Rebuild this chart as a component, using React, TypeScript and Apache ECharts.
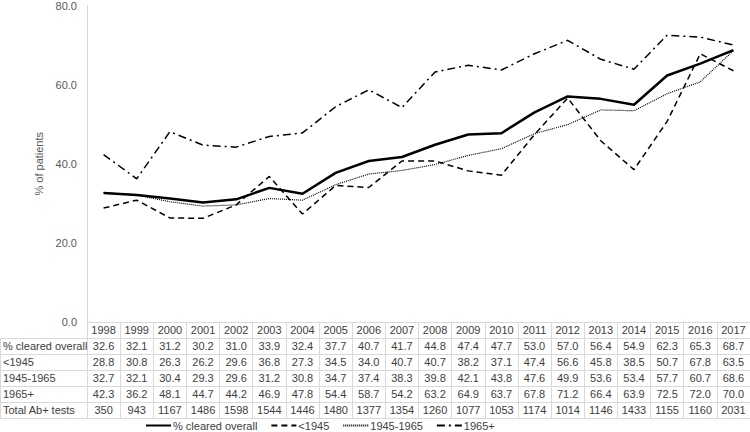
import React, { useEffect, useRef } from "react";
import * as echarts from "echarts";

const years = ["1998","1999","2000","2001","2002","2003","2004","2005","2006","2007","2008","2009","2010","2011","2012","2013","2014","2015","2016","2017"];
const overall = [32.6,32.1,31.2,30.2,31.0,33.9,32.4,37.7,40.7,41.7,44.8,47.4,47.7,53.0,57.0,56.4,54.9,62.3,65.3,68.7];
const lt1945 = [28.8,30.8,26.3,26.2,29.6,36.8,27.3,34.5,34.0,40.7,40.7,38.2,37.1,47.4,56.6,45.8,38.5,50.7,67.8,63.5];
const mid = [32.7,32.1,30.4,29.3,29.6,31.2,30.8,34.7,37.4,38.3,39.8,42.1,43.8,47.6,49.9,53.6,53.4,57.7,60.7,68.6];
const plus1965 = [42.3,36.2,48.1,44.7,44.2,46.9,47.8,54.4,58.7,54.2,63.2,64.9,63.7,67.8,71.2,66.4,63.9,72.5,72.0,70.0];
const totals = [350,943,1167,1486,1598,1544,1446,1480,1377,1354,1260,1077,1053,1174,1014,1146,1433,1155,1160,2031];
const seriesNames = ["% cleared overall", "<1945", "1945-1965", "1965+"];
const rowLabels = ["% cleared overall", "<1945", "1945-1965", "1965+", "Total Ab+ tests"];

const GRID_LEFT = 87;
const AXIS_Y = 322;
const ROW_H = 16;
const BORDER = "#d9d9d9";
const TEXT = "#404040";

export default function App() {
  const ref = useRef<HTMLDivElement>(null);
  useEffect(() => {
    if (!ref.current) return;
    const chart = echarts.init(ref.current, undefined, { renderer: "svg" });
    const rows: string[][] = [
      overall.map((v) => v.toFixed(1)),
      lt1945.map((v) => v.toFixed(1)),
      mid.map((v) => v.toFixed(1)),
      plus1965.map((v) => v.toFixed(1)),
      totals.map((v) => String(v)),
    ];
    const baseAxis = (data: string[], offset: number, showTicks: boolean, showLabels: boolean) => ({
      type: "category",
      gridIndex: 0,
      position: "bottom",
      offset,
      data,
      boundaryGap: true,
      axisLine: { show: true, lineStyle: { color: BORDER, width: 1 } },
      axisTick: { show: showTicks, interval: 0, length: ROW_H, alignWithLabel: false, lineStyle: { color: BORDER, width: 1 } },
      axisLabel: {
        show: showLabels,
        interval: 0,
        margin: 8,
        verticalAlign: "middle",
        color: TEXT,
        fontSize: 11,
        fontFamily: "Liberation Sans, Arial, sans-serif",
      },
      splitLine: { show: false },
    });
    const xAxes: any[] = [baseAxis(years, 0, true, true)];
    rows.forEach((r, i) => xAxes.push(baseAxis(r, ROW_H * (i + 1), true, true)));
    xAxes.push(baseAxis(years, ROW_H * 6, false, false));

    const graphics: any[] = [];
    rowLabels.forEach((lab, i) => {
      graphics.push({
        type: "text",
        left: 3,
        top: AXIS_Y + ROW_H * (i + 1) + 2,
        style: { text: lab, fill: TEXT, fontSize: 11, fontFamily: "Liberation Sans, Arial, sans-serif" },
      });
    });
    for (let i = 1; i <= 6; i++) {
      const y = AXIS_Y + ROW_H * i + 0.5;
      graphics.push({ type: "line", shape: { x1: 0, y1: y, x2: GRID_LEFT, y2: y }, style: { stroke: BORDER, lineWidth: 1 } });
    }
    graphics.push({ type: "line", shape: { x1: 0.5, y1: AXIS_Y + ROW_H, x2: 0.5, y2: AXIS_Y + ROW_H * 6 }, style: { stroke: BORDER, lineWidth: 1 } });

    const styles = [
      { width: 2.5, type: "solid" },
      { width: 1.5, type: [6, 4] },
      { width: 1.2, type: [1, 1] },
      { width: 1.5, type: [8, 4, 2, 4] },
    ];
    const datasets = [overall, lt1945, mid, plus1965];

    chart.setOption({
      animation: false,
      textStyle: { fontFamily: "Liberation Sans, Arial, sans-serif" },
      grid: { left: GRID_LEFT, right: 0, top: 5, bottom: 432 - AXIS_Y, containLabel: false },
      legend: {
        left: 145,
        top: 420,
        itemWidth: 25,
        itemHeight: 10,
        itemGap: 13,
        padding: 0,
        data: seriesNames,
        itemStyle: { opacity: 0, color: "transparent", borderWidth: 0 },
        textStyle: { color: TEXT, fontSize: 11, padding: [0, 0, 0, -3] },
      },
      xAxis: xAxes,
      yAxis: {
        type: "value",
        min: 0,
        max: 80,
        interval: 20,
        name: "% of patients",
        nameLocation: "middle",
        nameRotate: 90,
        nameGap: 42,
        nameTextStyle: { color: "#595959", fontSize: 11 },
        axisLine: { show: true, lineStyle: { color: BORDER } },
        axisTick: { show: false },
        splitLine: { show: false },
        axisLabel: { color: "#595959", fontSize: 11, margin: 10, formatter: (v: number) => v.toFixed(1) },
      },
      series: datasets.map((d, i) => ({
        name: seriesNames[i],
        type: "line",
        xAxisIndex: 0,
        data: d,
        symbol: "none",
        z: 10 - i,
        lineStyle: { color: "#000", width: styles[i].width, type: styles[i].type },
        itemStyle: { color: "#000" },
      })),
      graphic: graphics,
    });
    return () => chart.dispose();
  }, []);
  return <div ref={ref} style={{ width: 750, height: 432, position: "absolute", left: 0, top: 0 }} />;
}
